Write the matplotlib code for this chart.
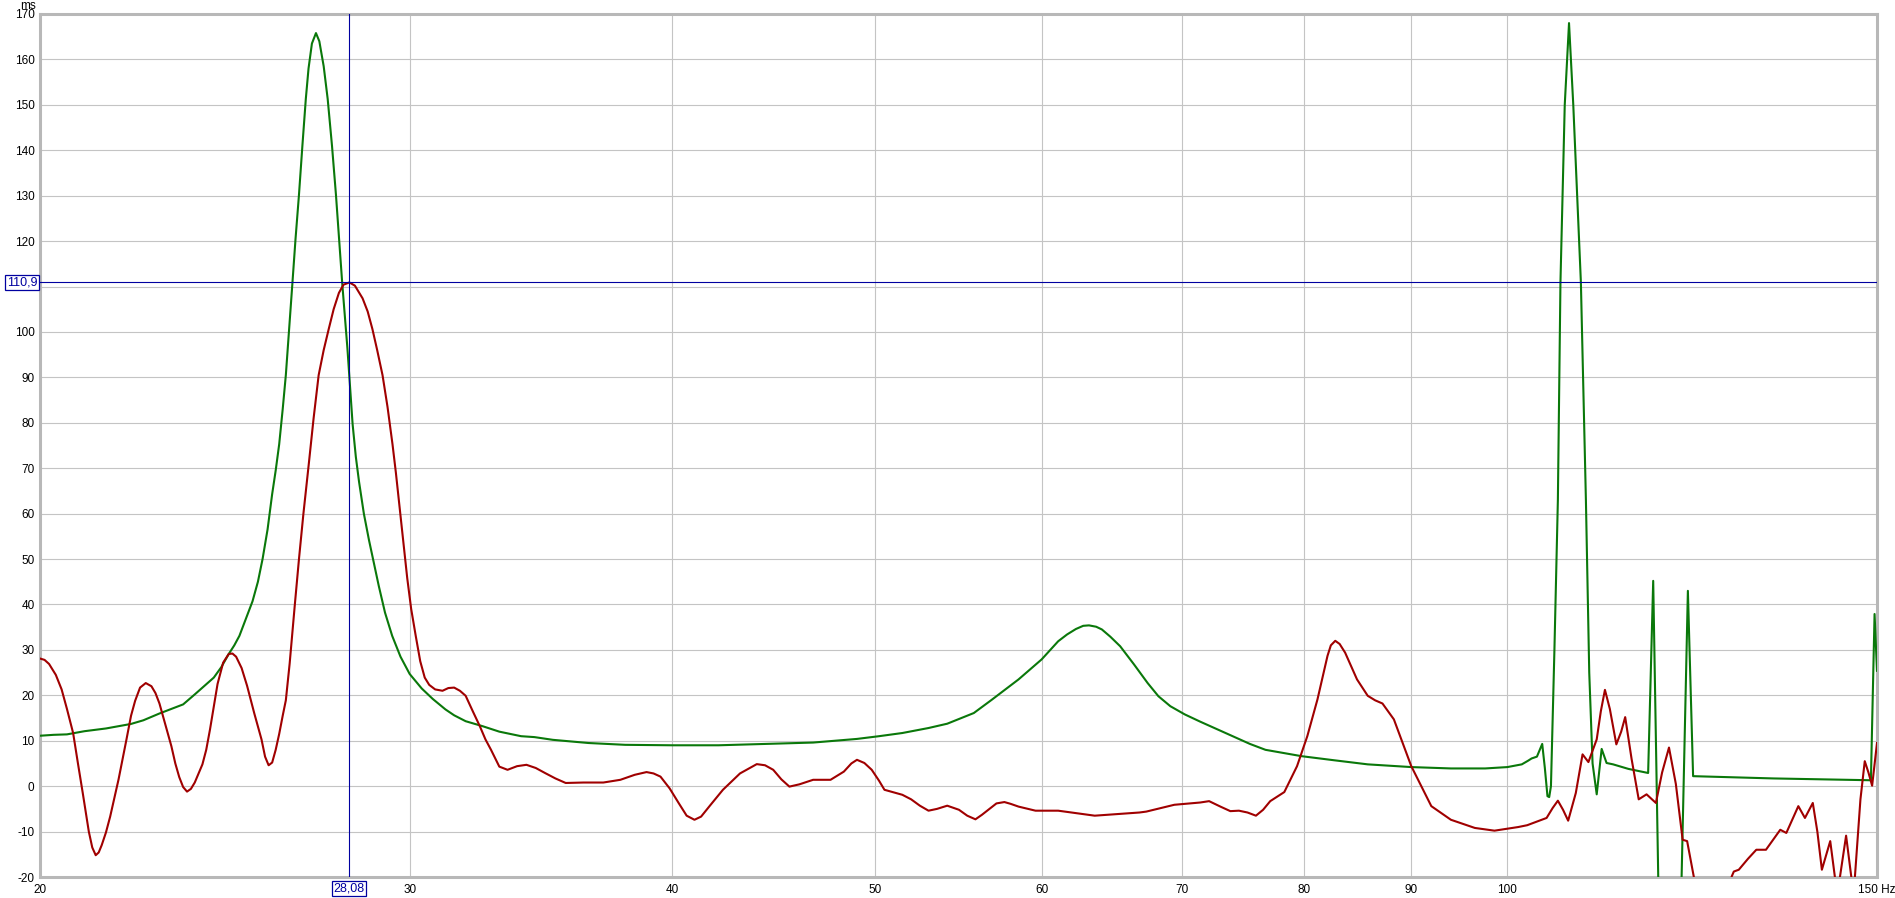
import numpy as np
import matplotlib as mp
mp.use("Agg")
import matplotlib.pyplot as plt
from matplotlib.ticker import NullLocator, NullFormatter

# green trace (Hz, ms)
green_freq = [20.0, 20.3, 20.6, 21.0, 21.5, 22.1, 22.4, 22.8, 23.4, 23.7, 24.2, 24.4, 24.6,
              24.75, 24.89, 25.05, 25.25, 25.4, 25.53, 25.67, 25.8, 25.9, 26.0, 26.1, 26.19,
              26.28, 26.38, 26.47, 26.57, 26.67, 26.77, 26.85, 26.95, 27.07, 27.17, 27.3,
              27.42, 27.55, 27.67, 27.77, 27.86, 27.94, 28.02, 28.1, 28.18, 28.28, 28.38,
              28.53, 28.69, 28.85, 29.0, 29.2, 29.43, 29.7, 30.0, 30.4, 30.77, 31.2, 31.5,
              31.9, 32.5, 33.1, 33.9, 34.4, 35.1, 36.5, 38.0, 40.0, 42.1, 44.4, 46.7, 49.0,
              50.2, 51.5, 53.0, 54.1, 55.7, 56.8, 58.5, 60.0, 61.1, 61.7, 62.3, 62.8, 63.2,
              63.7, 64.1, 64.7, 65.4, 66.4, 67.4, 68.2, 69.1, 70.2, 71.4, 73.0, 75.4, 76.7,
              79.8, 82.7, 85.8, 90.0, 94.0, 97.6, 100.0, 101.6, 102.3, 102.7, 103.3, 103.9,
              104.2, 104.5, 104.7, 104.9, 105.3, 105.7, 106.0, 106.5, 107.0, 107.5, 108.4,
              109.0, 109.4, 109.8, 110.3, 110.9, 111.5, 112.3, 114.2, 116.7, 117.35, 118.2,
              120.8, 121.9, 122.6, 133.9, 145.0, 149.0, 149.6, 150.0]
green_ms = [11.1, 11.3, 11.4, 12.1, 12.7, 13.7, 14.5, 16.0, 18.0, 20.2, 23.9, 26.2, 29.1,
            31.0, 33.1, 36.5, 40.7, 45.0, 50.0, 56.5, 64.3, 69.5, 75.3, 83.0, 90.5,
            100.0, 110.8, 120.5, 130.2, 141.0, 151.3, 158.0, 163.5, 165.8, 164.0, 158.5,
            151.3, 141.0, 130.2, 120.0, 110.8, 103.5, 96.4, 88.0, 79.7, 72.5, 67.0,
            60.0, 54.2, 49.0, 44.1, 38.2, 33.1, 28.5, 24.7, 21.5, 19.2, 16.9, 15.6,
            14.3, 13.2, 12.0, 11.0, 10.8, 10.2, 9.5, 9.1, 9.0, 9.0, 9.3, 9.6, 10.4,
            11.0, 11.7, 12.8, 13.75, 16.1, 19.0, 23.5, 27.9, 31.9, 33.4, 34.6, 35.3, 35.4,
            35.1, 34.5, 32.9, 30.8, 26.8, 22.7, 19.8, 17.6, 15.8, 14.2, 12.2, 9.3, 8.0,
            6.6, 5.7, 4.8, 4.2, 3.9, 3.9, 4.2, 4.8, 5.6, 6.1, 6.5, 9.3,
            4.0, -2.2, -2.4, 0.0, 30.0, 63.0, 111.0, 150.0, 168.0, 150.0, 111.0,
            63.0, 25.0, 5.0, -1.8, 8.2, 5.1, 4.8, 3.8, 2.9, 45.2, -40.0,
            -40.0, 43.0, 2.2, 1.7, 1.4, 1.3, 37.9, 25.4]

# red trace (Hz, ms)
red_freq = [20.0, 20.1, 20.2, 20.35, 20.48, 20.6, 20.74, 20.85, 20.96, 21.1, 21.18, 21.26,
            21.33, 21.4, 21.5, 21.6, 21.8, 21.99, 22.1, 22.2, 22.32, 22.46, 22.6, 22.7, 22.8,
            22.95, 23.1, 23.2, 23.3, 23.4, 23.5, 23.6, 23.7, 23.9, 24.0, 24.1, 24.2, 24.3,
            24.45, 24.6, 24.7, 24.8, 24.95, 25.1, 25.3, 25.5, 25.6, 25.7, 25.8, 25.9, 26.0,
            26.1, 26.19, 26.3, 26.45, 26.57, 26.7, 26.86, 27.0, 27.15, 27.3, 27.45, 27.6,
            27.76, 27.9, 28.08, 28.25, 28.49, 28.65, 28.8, 28.95, 29.12, 29.28, 29.44, 29.55,
            29.65, 29.8, 29.92, 30.05, 30.2, 30.35, 30.5, 30.65, 30.85, 31.1, 31.3, 31.5,
            31.7, 31.9, 32.15, 32.4, 32.6, 32.8, 33.1, 33.4, 33.75, 34.1, 34.45, 34.8, 35.2,
            35.6, 36.3, 37.1, 37.8, 38.4, 38.9, 39.2, 39.5, 39.9, 40.3, 40.65, 41.0, 41.3,
            41.7, 42.3, 43.1, 43.9, 44.3, 44.7, 45.1, 45.5, 46.0, 46.7, 47.6, 48.3, 48.7,
            49.0, 49.4, 49.8, 50.2, 50.5, 51.5, 52.0, 52.5, 53.0, 53.5, 54.1, 54.8, 55.3,
            55.8, 56.2, 56.7, 57.1, 57.6, 58.0, 58.5, 59.6, 61.1, 63.6, 66.8, 67.3, 69.4,
            71.4, 72.1, 73.0, 73.8, 74.5, 75.2, 75.9, 76.5, 77.1, 78.3, 79.4, 80.3, 81.2,
            82.1, 82.4, 82.8, 83.2, 83.7, 84.8, 85.8, 86.5, 87.2, 88.3, 90.0, 92.0, 94.0,
            96.5, 98.6, 101.2, 102.2, 104.4, 105.1, 105.7, 106.3, 106.9, 107.8, 108.6, 109.3,
            110.3, 110.8, 111.3, 111.9, 112.7, 113.3, 113.8, 114.6, 115.5, 116.5, 117.7,
            118.5, 119.4, 120.3, 121.2, 121.8, 122.7, 123.5, 127.5, 127.9, 128.2, 128.9,
            130.2, 131.4, 132.8, 134.9, 135.8, 137.6, 138.6, 139.8, 140.5, 141.2, 142.5,
            143.6, 145.0, 146.2, 147.3, 148.0, 148.6, 149.2, 150.0]
red_ms = [28.1, 27.8, 26.9, 24.5, 21.3, 17.0, 11.7, 5.0, -1.5, -10.0, -13.5, -15.2,
          -14.6, -13.0, -10.2, -6.7, 1.5, 10.3, 15.5, 18.8, 21.7, 22.7, 22.0, 20.5, 18.2,
          13.5, 8.8, 5.0, 2.0, -0.2, -1.2, -0.6, 0.8, 4.8, 8.0, 12.5, 17.5, 22.5,
          27.2, 29.1, 29.2, 28.5, 26.0, 22.1, 16.0, 10.3, 6.5, 4.6, 5.2, 8.0, 11.5,
          15.5, 18.9, 27.0, 40.0, 50.0, 60.0, 71.1, 81.0, 90.5, 96.0, 100.6, 105.0,
          108.6, 110.4, 110.9, 110.2, 107.4, 104.5, 100.6, 96.0, 90.5, 83.5, 75.3, 69.0,
          62.7, 53.5, 45.8, 39.0, 33.1, 27.5, 23.9, 22.3, 21.3, 21.0, 21.6, 21.7,
          21.0, 19.9, 16.5, 13.2, 10.3, 8.0, 4.3, 3.6, 4.4, 4.7, 4.0, 2.9, 1.7,
          0.7, 0.8, 0.8, 1.4, 2.5, 3.1, 2.8, 2.1, -0.5, -3.75, -6.5, -7.4, -6.7,
          -4.3, -0.8, 2.8, 4.85, 4.6, 3.6, 1.5, -0.1, 0.4, 1.4, 1.4, 3.2, 5.0,
          5.8, 5.1, 3.6, 1.2, -0.8, -1.9, -2.9, -4.3, -5.4, -5.0, -4.3, -5.2, -6.5,
          -7.3, -6.3, -4.9, -3.8, -3.5, -3.9, -4.5, -5.4, -5.4, -6.5, -5.8, -5.6, -4.1,
          -3.6, -3.3, -4.5, -5.5, -5.4, -5.8, -6.5, -5.2, -3.3, -1.3, 4.4, 11.0, 19.1,
          28.7, 31.0, 32.0, 31.3, 29.4, 23.5, 19.9, 18.9, 18.2, 14.7, 4.4, -4.4, -7.4,
          -9.2, -9.8, -9.0, -8.6, -7.0, -4.8, -3.2, -5.2, -7.6, -1.5, 7.0, 5.3,
          10.3, 16.5, 21.2, 17.0, 9.2, 12.0, 15.2, 6.0, -2.9, -1.8, -3.7,
          3.0, 8.5, 0.5, -11.8, -12.1, -20.0, -30.0, -30.0, -19.9, -18.8, -18.4,
          -16.0, -14.0, -14.0, -9.6, -10.3, -4.4, -7.0, -3.7, -10.0, -18.4, -12.1,
          -24.0, -10.9, -24.0, -2.9, 5.5, 3.0, 0.1, 9.5]

x_ticks = [20, 30, 40, 50, 60, 70, 80, 90, 100, 150]
x_tick_labels = ["20", "30", "40", "50", "60", "70", "80", "90", "100", "150 Hz"]
y_ticks = list(range(-20, 171, 10))

cursor_hz = 28.08
cursor_ms = 110.9

mp.rcParams["font.family"] = ["Liberation Sans", "DejaVu Sans"]
mp.rcParams["font.size"] = 8.5

fig = plt.figure(figsize=(18.95, 8.98), dpi=100, facecolor="white")
ax = fig.add_axes([40 / 1895, 1 - 877 / 898, 1837 / 1895, 863 / 898])

ax.set_xscale("log")
ax.set_xlim(20, 150)
ax.set_ylim(-20, 170)

ax.set_xticks(x_ticks)
ax.set_xticklabels(x_tick_labels)
ax.xaxis.set_minor_locator(NullLocator())
ax.xaxis.set_minor_formatter(NullFormatter())
ax.set_yticks(y_ticks)
ax.set_yticklabels([str(v) for v in y_ticks])
ax.tick_params(axis="both", length=0, labelsize=8.5, colors="black")
ax.tick_params(axis="x", pad=5)
ax.tick_params(axis="y", pad=4)

ax.grid(True, which="major", color="#c4c4c4", linewidth=0.8)
ax.set_axisbelow(True)
for s in ax.spines.values():
    s.set_color("#b8b8b8")
    s.set_linewidth(2.2)

ax.plot(green_freq, green_ms, color="#0a780a", linewidth=1.5, zorder=3,
        solid_joinstyle="round")
ax.plot(red_freq, red_ms, color="#a00000", linewidth=1.5, zorder=4,
        solid_joinstyle="round")

# cursor
ax.axvline(cursor_hz, color="#0000a0", linewidth=0.8, zorder=5)
ax.axhline(cursor_ms, color="#0000a0", linewidth=0.8, zorder=5)

box = dict(boxstyle="square,pad=0.12", facecolor="white", edgecolor="#0000a0", linewidth=0.9)
ax.annotate(f"{cursor_ms:.1f}".replace(".", ","), xy=(0, cursor_ms),
            xycoords=ax.get_yaxis_transform(), xytext=(-2, 0), textcoords="offset points",
            ha="right", va="center", color="#0000a0", fontsize=9, bbox=box,
            annotation_clip=False, zorder=10)
ax.annotate(f"{cursor_hz:.2f}".replace(".", ","), xy=(cursor_hz, 0),
            xycoords=ax.get_xaxis_transform(), xytext=(0, -8.6), textcoords="offset points",
            ha="center", va="center", color="#0000a0", fontsize=9, bbox=box,
            annotation_clip=False, zorder=10)

ax.text(-4 / 1837, 1.0 + 5 / 863, "ms", transform=ax.transAxes, ha="right", va="baseline",
        fontsize=8.5)

fig.savefig("out.png", dpi=100, facecolor="white")
plt.close()
